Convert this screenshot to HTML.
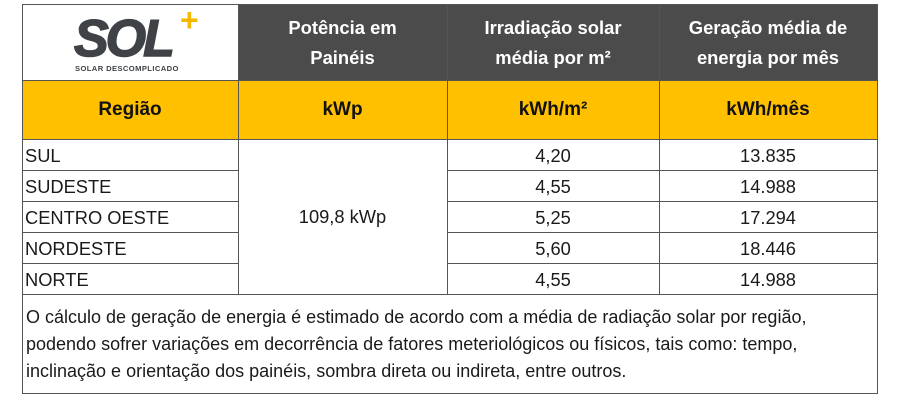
<!DOCTYPE html>
<html><head><meta charset="utf-8"><style>
body{margin:0;width:900px;height:400px;background:#fff;font-family:"Liberation Sans","DejaVu Sans",sans-serif;position:relative;overflow:hidden}
.a{position:absolute;box-sizing:border-box}
.c{display:flex;align-items:center;justify-content:center;text-align:center}
.h{background:#4b4b4b;color:#fff;font-weight:bold;font-size:18.4px;line-height:30px}
.y{background:#ffc000;color:#111;font-weight:bold;font-size:19px}
.d{font-size:18.3px;color:#1a1a1a}
.l{position:absolute;background:#555}
</style></head><body>
<div class="a" style="left:72px;top:8px;width:160px;height:72px">
 <div style="position:absolute;left:2px;top:6px;font-weight:bold;font-style:italic;font-size:52px;color:#3f4347;line-height:50px;letter-spacing:-3px;-webkit-text-stroke:1.5px #3f4347">SOL</div>
 <div style="position:absolute;left:108px;top:-4px;color:#f5b800;font-size:32px;font-weight:bold;line-height:32px">+</div>
 <div style="position:absolute;left:3px;top:56px;font-size:7.6px;font-weight:bold;color:#3f4347;letter-spacing:0.4px;white-space:nowrap">SOLAR DESCOMPLICADO</div>
</div>
<div class="a c h" style="left:238px;top:5px;width:209px;height:75px">Potência em<br>Painéis</div>
<div class="a c h" style="left:447px;top:5px;width:212px;height:75px">Irradiação solar<br>média por m²</div>
<div class="a c h" style="left:659px;top:5px;width:218px;height:75px">Geração média de<br>energia por mês</div>
<div class="a c y" style="left:22px;top:80px;width:216px;height:59px">Região</div>
<div class="a c y" style="left:238px;top:80px;width:209px;height:59px">kWp</div>
<div class="a c y" style="left:447px;top:80px;width:212px;height:59px">kWh/m²</div>
<div class="a c y" style="left:659px;top:80px;width:218px;height:59px">kWh/mês</div>
<div class="a d" style="left:25px;top:140px;line-height:31px">SUL<br>SUDESTE<br>CENTRO OESTE<br>NORDESTE<br>NORTE</div>
<div class="a c d" style="left:238px;top:139px;width:209px;height:155px">109,8 kWp</div>
<div class="a d" style="left:447px;top:140px;width:212px;line-height:31px;text-align:center">4,20<br>4,55<br>5,25<br>5,60<br>4,55</div>
<div class="a d" style="left:659px;top:140px;width:218px;line-height:31px;text-align:center">13.835<br>14.988<br>17.294<br>18.446<br>14.988</div>
<div class="a d" style="left:26px;top:304px;width:860px;line-height:27px;font-size:18px;white-space:nowrap">O cálculo de geração de energia é estimado de acordo com a média de radiação solar por região,<br>podendo sofrer variações em decorrência de fatores meteriológicos ou físicos, tais como: tempo,<br>inclinação e orientação dos painéis, sombra direta ou indireta, entre outros.</div>
<div class="l" style="left:22px;top:4px;width:856px;height:1px"></div>
<div class="l" style="left:22px;top:80px;width:856px;height:1px"></div>
<div class="l" style="left:22px;top:139px;width:856px;height:1px"></div>
<div class="l" style="left:22px;top:170px;width:216px;height:1px"></div>
<div class="l" style="left:22px;top:201px;width:216px;height:1px"></div>
<div class="l" style="left:22px;top:232px;width:216px;height:1px"></div>
<div class="l" style="left:22px;top:263px;width:216px;height:1px"></div>
<div class="l" style="left:447px;top:170px;width:431px;height:1px"></div>
<div class="l" style="left:447px;top:201px;width:431px;height:1px"></div>
<div class="l" style="left:447px;top:232px;width:431px;height:1px"></div>
<div class="l" style="left:447px;top:263px;width:431px;height:1px"></div>
<div class="l" style="left:22px;top:294px;width:856px;height:1px"></div>
<div class="l" style="left:22px;top:393px;width:856px;height:1px"></div>
<div class="l" style="left:22px;top:4px;width:1px;height:390px"></div>
<div class="l" style="left:877px;top:4px;width:1px;height:390px"></div>
<div class="l" style="left:238px;top:4px;width:1px;height:291px"></div>
<div class="l" style="left:447px;top:4px;width:1px;height:291px"></div>
<div class="l" style="left:659px;top:4px;width:1px;height:291px"></div>
</body></html>
